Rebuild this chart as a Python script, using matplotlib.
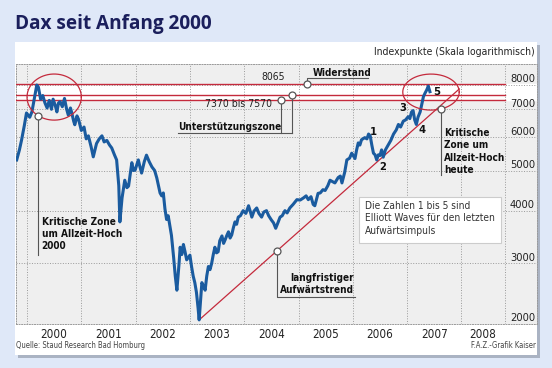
import numpy as np
import matplotlib.pyplot as plt
from matplotlib.patches import Rectangle

plt.rcParams['font.family'] = ['DejaVu Sans']
plt.rcParams['font.stretch'] = 'condensed'

# DAX-Verlauf (Jahr, Indexpunkte)
dax_t = [1999.81, 1999.86, 1999.90, 1999.95, 1999.99, 2000.05, 2000.09, 2000.14, 2000.18, 2000.21,
         2000.25, 2000.29, 2000.33, 2000.37, 2000.41, 2000.45, 2000.48, 2000.52, 2000.55, 2000.58,
         2000.61, 2000.65, 2000.69, 2000.73, 2000.76, 2000.80, 2000.82, 2000.86, 2000.88, 2000.92,
         2000.95, 2001.00, 2001.05, 2001.09, 2001.13, 2001.18, 2001.22, 2001.28, 2001.33, 2001.38,
         2001.42, 2001.47, 2001.52, 2001.56, 2001.61, 2001.65, 2001.69, 2001.71, 2001.75, 2001.80,
         2001.84, 2001.87, 2001.93, 2001.96, 2001.99, 2002.05, 2002.08, 2002.11, 2002.16, 2002.20,
         2002.25, 2002.30, 2002.35, 2002.39, 2002.45, 2002.48, 2002.51, 2002.54, 2002.57, 2002.60,
         2002.66, 2002.70, 2002.73, 2002.76, 2002.80, 2002.82, 2002.85, 2002.88, 2002.91, 2002.94,
         2003.00, 2003.03, 2003.06, 2003.09, 2003.12, 2003.15, 2003.17, 2003.20, 2003.22, 2003.25,
         2003.28, 2003.31, 2003.34, 2003.37, 2003.40, 2003.43, 2003.46, 2003.49, 2003.52, 2003.55,
         2003.59, 2003.62, 2003.65, 2003.68, 2003.71, 2003.74, 2003.77, 2003.80, 2003.83, 2003.86,
         2003.89, 2003.93, 2003.98, 2004.03, 2004.08, 2004.11, 2004.14, 2004.18, 2004.23, 2004.27,
         2004.32, 2004.36, 2004.41, 2004.45, 2004.50, 2004.54, 2004.58, 2004.62, 2004.66, 2004.70,
         2004.75, 2004.79, 2004.84, 2004.90, 2004.97, 2005.03, 2005.09, 2005.14, 2005.18, 2005.23,
         2005.27, 2005.30, 2005.36, 2005.40, 2005.45, 2005.49, 2005.54, 2005.58, 2005.63, 2005.67,
         2005.73, 2005.77, 2005.80, 2005.85, 2005.89, 2005.94, 2005.98, 2006.04, 2006.07, 2006.10,
         2006.13, 2006.16, 2006.22, 2006.26, 2006.29, 2006.32, 2006.35, 2006.38, 2006.41, 2006.44,
         2006.47, 2006.50, 2006.53, 2006.56, 2006.60, 2006.65, 2006.70, 2006.75, 2006.80, 2006.84,
         2006.88, 2006.93, 2006.97, 2007.02, 2007.05, 2007.08, 2007.11, 2007.14, 2007.17, 2007.20,
         2007.24, 2007.27, 2007.30, 2007.33, 2007.36, 2007.39, 2007.42]
dax_v = [5300, 5600, 5915, 6400, 6860, 6700, 6900, 7500, 8000, 7900,
         7400, 7550, 7250, 7050, 7350, 7000, 7400, 7150, 6900, 7250,
         7300, 7100, 7430, 7000, 6780, 7050, 6900, 6550, 6430, 6750,
         6620, 6230, 6350, 5950, 6050, 5700, 5390, 5800, 5950, 6050,
         5850, 5900, 5750, 5660, 5450, 5300, 4600, 3770, 4300, 4740,
         4550, 4590, 5220, 5000, 5010, 5300, 5100, 4930, 5250, 5440,
         5250, 5100, 5000, 4800, 4420, 4350, 4420, 4050, 3820, 3900,
         3500, 3100, 2800, 2590, 3000, 3280, 3150, 3330, 3200, 3060,
         3140, 2950, 2800, 2700, 2560, 2350, 2200, 2500, 2700, 2650,
         2590, 2800, 2950, 2900, 3000, 3150, 3280, 3180, 3200, 3400,
         3490, 3350, 3420, 3500, 3570, 3450, 3510, 3650, 3770, 3720,
         3870, 3900, 4010, 3950, 4120, 4000, 3870, 4000, 4070, 3950,
         3870, 3980, 4010, 3900, 3810, 3750, 3640, 3750, 3870, 3900,
         4010, 3960, 4070, 4150, 4260, 4250, 4300, 4350, 4260, 4330,
         4150, 4120, 4410, 4420, 4500, 4480, 4600, 4740, 4700, 4670,
         4810, 4850, 4670, 4950, 5300, 5350, 5500, 5340, 5600, 5820,
         5750, 5920, 5990, 5950, 6110, 6050, 5750, 5500, 5450, 5300,
         5450, 5430, 5600, 5380, 5600, 5750, 5900, 6110, 6250, 6440,
         6350, 6560, 6600, 6720, 6650, 6890, 6950, 6600, 6440, 6700,
         6900, 7200, 7500, 7650, 7780, 7950, 7710]

years = [2000, 2001, 2002, 2003, 2004, 2005, 2006, 2007, 2008]
year_labels = ['2000', '2001', '2002', '2003', '2004', '2005', '2006', '2007', '2008']
y_ticks = [3000, 4000, 5000, 6000, 7000, 8000]
y_labels = ['3000', '4000', '5000', '6000', '7000', '8000']
bottom_label = '2000'

resistance = 8065
support = [7370, 7570]

trend_t = [2003.17, 2007.96]
trend_v = [2200, 7825]

wave_labels = ['1', '2', '3', '4', '5']
wave_t = [2006.37, 2006.55, 2006.92, 2007.27, 2007.55]
wave_v = [6163, 5097, 7057, 6244, 7694]

BLUE = '#1a5b9f'
RED = '#c42a3c'
NAVY = '#1b1f5c'
GREY = '#555555'
INK = '#111111'
W, H = 552, 368
FS = 7.5    # Beschriftungen
FSB = 7.2   # fette Beschriftungen

# ----------------------------------------------------------------------------------------------------
def ellipse(cx, cv, a, b):
    t = np.linspace(0, 2 * np.pi, 200)
    return cx + a * np.cos(t), cv * 10 ** (b * np.sin(t))

def ellipse_low(cx, cv, a, b, x):
    return cv * 10 ** (-b * np.sqrt(1 - ((x - cx) / a) ** 2))

def trend_at(x):
    f = (x - trend_t[0]) / (trend_t[1] - trend_t[0])
    return 10 ** (np.log10(trend_v[0]) + f * (np.log10(trend_v[1]) - np.log10(trend_v[0])))

def marker(ax, x, y):
    ax.plot(x, y, 'o', ms=5, mfc='white', mec=GREY, mew=0.9, zorder=6)

# ----------------------------------------------------------------------------------------------------
fig = plt.figure(figsize=(W / 100, H / 100), dpi=100)
fig.patch.set_facecolor('#dfe8f8')
fig.patches.append(Rectangle((18 / W, 10 / H), 522 / W, 313 / H, transform=fig.transFigure,
                             fc='#aab3c3', ec='none', zorder=-2))
fig.patches.append(Rectangle((15 / W, 13 / H), 522 / W, 313 / H, transform=fig.transFigure,
                             fc='white', ec='none', zorder=-1))

fig.text(15 / W, 1 - 24 / H, 'Dax seit Anfang 2000', fontsize=13.7, fontweight='bold', fontstretch='normal',
         color=NAVY, family=['Open Sans', 'DejaVu Sans'], va='center')
fig.text(535 / W, 1 - 52 / H, 'Indexpunkte (Skala logarithmisch)', fontsize=7.5,
         color='#222222', ha='right', va='center')
fig.text(16 / W, 1 - 346 / H, 'Quelle: Staud Research Bad Homburg', fontsize=5.5,
         color='#444444', va='center')
fig.text(536 / W, 1 - 346 / H, 'F.A.Z.-Grafik Kaiser', fontsize=5.5,
         color='#444444', ha='right', va='center')

ax = fig.add_axes([16 / W, 44 / H, 521 / W, 260 / H])
ax.set_zorder(1)
ax.set_facecolor('#efefef')
ax.set_yscale('log')
ax.set_xlim(1999.797, 2009.392)
ax.set_ylim(2151, 8978)

for s in ax.spines.values():
    s.set_linestyle(':')
    s.set_color('#999999')
    s.set_linewidth(0.7)

# weisses Band um die Widerstandszone
ax.axhspan(support[0], resistance, color='white', zorder=0.5)

vlines = years + [2008.80]
for x in vlines:
    ax.axvline(x, color='#999999', ls=':', lw=0.7, zorder=1)
for y in y_ticks:
    ax.axhline(y, color='#999999', ls=':', lw=0.7, zorder=1)

ytrans = ax.get_yaxis_transform()
for y, lab in zip(y_ticks, y_labels):
    ax.text(0.996, y * 1.004, lab, transform=ytrans, ha='right', va='bottom', fontsize=8, color='#222222')
ax.text(0.996, 2151 * 1.004, bottom_label, transform=ytrans, ha='right', va='bottom', fontsize=8, color='#222222')

mids = [(vlines[i] + vlines[i + 1]) / 2 for i in range(len(years))]
ax.set_xticks(mids)
ax.set_xticklabels(year_labels)
ax.set_yticks([])
ax.minorticks_off()
ax.tick_params(axis='x', length=0, pad=3, labelsize=8.4, labelcolor='#222222')

# Widerstand / Unterstuetzung
ax.axhline(resistance, xmax=0.938, color=RED, lw=1.0, zorder=3)
for v in support:
    ax.axhline(v, xmax=0.938, color=RED, lw=1.0, zorder=3)

# Trendlinie
ax.plot(trend_t, trend_v, color=RED, lw=0.9, zorder=3)

# Ellipsen
e1 = (2000.50, 7486, 0.50, 0.055)
e2 = (2007.44, 7694, 0.52, 0.043)
for e in (e1, e2):
    ex, ey = ellipse(*e)
    ax.plot(ex, ey, color=RED, lw=0.9, zorder=5)

# DAX
ax.plot(dax_t, dax_v, color=BLUE, lw=2.2, solid_joinstyle='round', zorder=4)

# Wellen 1-5
for lab, x, y in zip(wave_labels, wave_t, wave_v):
    ax.text(x, y, lab, ha='center', va='center', fontsize=8, fontweight='bold', color=INK, zorder=7)

# Widerstand
ax.plot([2005.16, 2005.16, 2006.28], [resistance, 8311, 8311], color=GREY, lw=0.8, zorder=5)
marker(ax, 2005.16, resistance)
ax.text(2005.27, 8330, 'Widerstand', ha='left', va='bottom', fontsize=FSB, fontweight='bold', color=INK)
ax.text(2004.75, 8360, '8065', ha='right', va='center', fontsize=FS, color='#222222')

# Unterstuetzungszone
ax.plot([2002.78, 2004.88], [6154, 6154], color=GREY, lw=0.8, zorder=5)
ax.plot([2004.68, 2004.68], [6154, support[0]], color=GREY, lw=0.8, zorder=5)
ax.plot([2004.88, 2004.88], [6154, support[1]], color=GREY, lw=0.8, zorder=5)
marker(ax, 2004.68, support[0])
marker(ax, 2004.88, support[1])
ax.text(2002.78, 6180, 'Unterstützungszone', ha='left', va='bottom', fontsize=FSB, fontweight='bold', color=INK)
ax.text(2004.51, 7197, '7370 bis 7570', ha='right', va='center', fontsize=FS, color='#222222')

# Kritische Zone 2000
k1x = 2000.20
k1y = ellipse_low(*e1, k1x)
ax.plot([k1x, k1x], [k1y, 3144], color=GREY, lw=0.8, zorder=5)
marker(ax, k1x, k1y)
ax.text(2000.27, 3880, 'Kritische Zone\num Allzeit-Hoch\n2000', ha='left', va='top', fontsize=FSB,
        fontweight='bold', color=INK, linespacing=1.3)

# Kritische Zone heute
k2x = 2007.62
k2y = ellipse_low(*e2, k2x)
ax.plot([k2x, k2x], [k2y, 4887], color=GREY, lw=0.8, zorder=5)
marker(ax, k2x, k2y)
ax.text(2007.68, 6320, 'Kritische\nZone um\nAllzeit-Hoch\nheute', ha='left', va='top', fontsize=FSB,
        fontweight='bold', color=INK, linespacing=1.3)

# langfristiger Aufwaertstrend
lx = 2004.60
ax.plot([lx, lx, 2006.04], [trend_at(lx), 2497, 2497], color=GREY, lw=0.8, zorder=5)
marker(ax, lx, trend_at(lx))
ax.text(2006.02, 2520, 'langfristiger\nAufwärtstrend', ha='right', va='bottom', multialignment='right',
        fontsize=FSB, fontweight='bold', color=INK, linespacing=1.3)

# Infobox
ax.add_patch(Rectangle((0.658, 0.312), 0.273, 0.176, transform=ax.transAxes, fc='white',
                       ec='#cccccc', lw=0.8, zorder=6))
ax.text(0.670, 0.474, 'Die Zahlen 1 bis 5 sind\nElliott Waves für den letzten\nAufwärtsimpuls',
        transform=ax.transAxes, ha='left', va='top', fontsize=7.3, color='#333333', linespacing=1.3, zorder=7)

fig.savefig('out.png', dpi=100, facecolor=fig.get_facecolor())
